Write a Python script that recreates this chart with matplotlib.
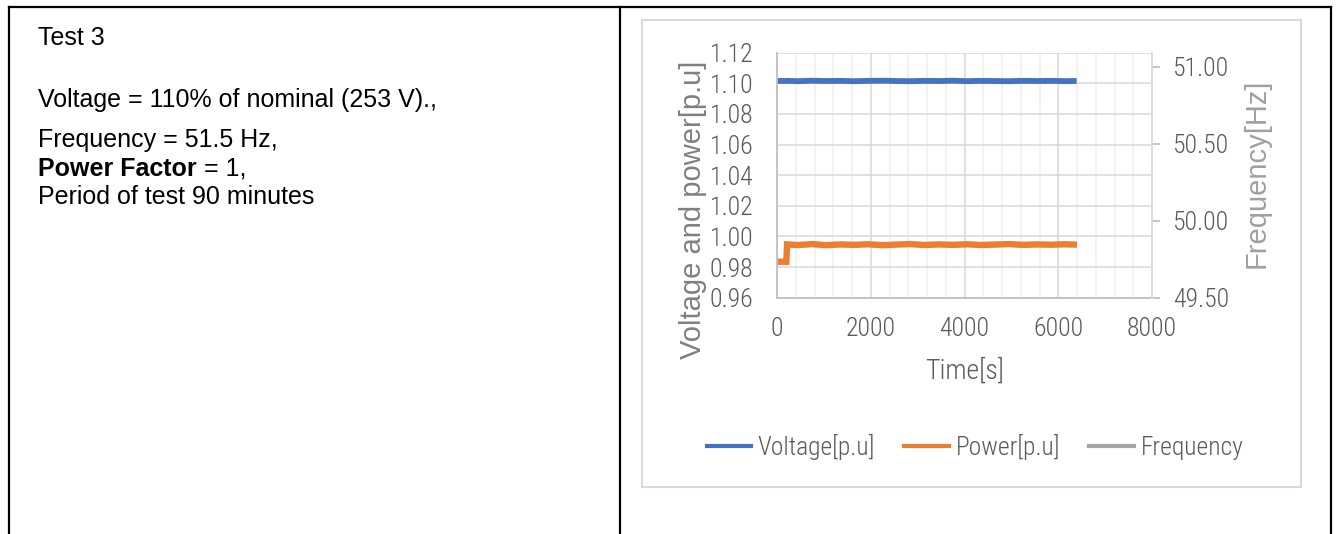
import matplotlib
matplotlib.use("Agg")
import matplotlib.pyplot as plt
from matplotlib import font_manager as fm
from matplotlib.lines import Line2D
from matplotlib.patches import Rectangle
from matplotlib.ticker import MultipleLocator, FormatStrFormatter

# --- data ---
time_s = [0, 200, 215, 450, 750, 1050, 1350, 1650, 1950, 2250, 2550, 2850,
          3150, 3450, 3750, 4050, 4350, 4650, 4950, 5250, 5550, 5850, 6150, 6330]
voltage_pu = [1.1016, 1.1015, 1.1016, 1.1014, 1.1017, 1.1015, 1.1016, 1.1014,
              1.1016, 1.1017, 1.1015, 1.1014, 1.1016, 1.1015, 1.1017, 1.1014,
              1.1016, 1.1015, 1.1014, 1.1016, 1.1015, 1.1016, 1.1014, 1.1015]
power_pu = [0.9835, 0.9835, 0.9948, 0.9944, 0.9950, 0.9943, 0.9948, 0.9945,
            0.9949, 0.9943, 0.9947, 0.9950, 0.9944, 0.9948, 0.9945, 0.9949,
            0.9944, 0.9947, 0.9950, 0.9945, 0.9948, 0.9946, 0.9949, 0.9947]
frequency_hz = [51.5, 51.5, 51.5, 51.5, 51.5, 51.5, 51.5, 51.5, 51.5, 51.5, 51.5, 51.5,
                51.5, 51.5, 51.5, 51.5, 51.5, 51.5, 51.5, 51.5, 51.5, 51.5, 51.5, 51.5]

info_title = "Test 3"
info_lines = [
    ("Voltage = 110% of nominal (253 V).,", None),
    ("Frequency = 51.5 Hz,", None),
    ("Power Factor", " = 1,"),
    ("Period of test 90 minutes", None),
]

BLUE = "#4472C4"
ORANGE = "#ED7D31"
GRAY = "#A5A5A5"
TXT = "#595959"


def pick_narrow():
    # look for any condensed / narrow sans face; Excel used Calibri Light here
    best = None
    for f in fm.fontManager.ttflist:
        fn = f.fname.lower()
        nm = f.name.lower()
        if f.style != "normal":
            continue
        cond = ("narrow" in nm or "condensed" in nm or "narrow" in fn
                or "condensed" in fn or str(f.stretch) == "condensed")
        if not cond:
            continue
        if any(k in fn for k in ("bold", "italic", "black", "medium", "thin",
                                 "extra", "ultra", "semi", "mono")):
            continue
        if "liberation" in fn:
            rank = 0
        elif "roboto" in fn:
            rank = 1 if "light" in fn else 2
        elif "noto" in fn:
            rank = 3 if "light" in fn else 4
        elif "dejavu" in fn:
            rank = 5
        else:
            rank = 6 if "light" in fn else 7
        if best is None or rank < best[0]:
            best = (rank, f.fname)
    return best[1] if best else None


NARROW_FILE = pick_narrow()


def nprop(size):
    if NARROW_FILE:
        return fm.FontProperties(fname=NARROW_FILE, size=size)
    return fm.FontProperties(family="Liberation Sans", size=size * 0.85)


W, H = 1336, 534
fig = plt.figure(figsize=(W / 100, H / 100), dpi=100)


def fx(px):
    return px / W


def fy(py):
    return 1 - py / H


# table borders
for xs, ys in [((9, 1331), (7, 7)), ((9, 9), (7, 534)),
               ((620, 620), (7, 534)), ((1331, 1331), (7, 534))]:
    fig.add_artist(Line2D([fx(x) for x in xs], [fy(y) for y in ys],
                          color="black", lw=1.6, transform=fig.transFigure))

# chart box
fig.add_artist(Rectangle((fx(642), fy(487)), fx(1301) - fx(642), fy(20) - fy(487),
                         fill=False, edgecolor="#d9d9d9", lw=1.5,
                         transform=fig.transFigure))

# left cell text
fig.text(fx(38), fy(45), info_title, fontsize=18, family="Liberation Sans",
         va="baseline", ha="left")
baselines = [107, 147, 176, 204]
for (txt, rest), yb in zip(info_lines, baselines):
    if rest is None:
        fig.text(fx(38), fy(yb), txt, fontsize=18, family="Liberation Sans",
                 va="baseline", ha="left")
    else:
        t = fig.text(fx(38), fy(yb), txt, fontsize=18, family="Liberation Sans",
                     fontweight="bold", va="baseline", ha="left")
        fig.canvas.draw()
        bb = t.get_window_extent()
        fig.text(bb.x1 / W, fy(yb), rest, fontsize=18, family="Liberation Sans",
                 va="baseline", ha="left")

# chart axes
ax = fig.add_axes([fx(777), fy(297.7), fx(1152) - fx(777), fy(52.7) - fy(297.7)])
ax.set_xlim(0, 8000)
ax.set_ylim(0.96, 1.12)
ax.xaxis.set_major_locator(MultipleLocator(2000))
ax.xaxis.set_minor_locator(MultipleLocator(400))
ax.yaxis.set_major_locator(MultipleLocator(0.02))
ax.yaxis.set_major_formatter(FormatStrFormatter("%.2f"))
ax.grid(axis="y", which="major", color="#d9d9d9", lw=1.1)
ax.grid(axis="x", which="major", color="#d9d9d9", lw=1.1)
ax.grid(axis="x", which="minor", color="#efefef", lw=1.1)
ax.set_axisbelow(True)
ax.tick_params(axis="both", which="both", length=0, labelcolor=TXT)
ax.tick_params(axis="y", pad=17)
ax.tick_params(axis="x", pad=14)
for lab in ax.get_xticklabels() + ax.get_yticklabels():
    lab.set_fontproperties(nprop(18.5))
for s in ["top", "right"]:
    ax.spines[s].set_visible(False)
for s in ["left", "bottom"]:
    ax.spines[s].set_color("#bfbfbf")
    ax.spines[s].set_linewidth(1.3)

l1, = ax.plot(time_s, voltage_pu, color=BLUE, lw=4.2, solid_joinstyle="miter",
              label="Voltage[p.u]")
l2, = ax.plot(time_s, power_pu, color=ORANGE, lw=4.6, solid_joinstyle="miter",
              label="Power[p.u]")

ax.set_ylabel("Voltage and power[p.u]", fontsize=21, color="#808080",
              family="Liberation Sans", va="center")
ax.yaxis.set_label_coords(-0.225, 0.36)
ax.set_xlabel("Time[s]", color=TXT, fontproperties=nprop(20), va="center")
ax.xaxis.set_label_coords(0.501, -0.3)

ax2 = ax.twinx()
ax2.set_ylim(49.5, 51.09)
ax2.yaxis.set_major_locator(MultipleLocator(0.5))
ax2.yaxis.set_major_formatter(FormatStrFormatter("%.2f"))
l3, = ax2.plot(time_s, frequency_hz, color=GRAY, lw=4.2, label="Frequency")
ax2.tick_params(axis="y", length=6, width=1.3, color="#bfbfbf",
                labelcolor=TXT, pad=9)
for lab in ax2.get_yticklabels():
    lab.set_fontproperties(nprop(18.5))
for s in ["top", "left", "bottom"]:
    ax2.spines[s].set_visible(False)
ax2.spines["right"].set_color("#d9d9d9")
ax2.spines["right"].set_linewidth(1.3)
ax2.set_ylabel("Frequency[Hz]", fontsize=21, color="#a0a0a0",
               family="Liberation Sans", rotation=90, va="center")
ax2.yaxis.set_label_coords(1.28, 0.51)

leg = fig.legend(handles=[l1, l2, l3], loc="center", ncol=3,
                 bbox_to_anchor=(fx(975), fy(447)), frameon=False,
                 prop=nprop(18.4),
                 handlelength=1.75, handletextpad=0.25, columnspacing=1.15)
for t in leg.get_texts():
    t.set_color(TXT)
for h in leg.get_lines():
    h.set_linewidth(3)

fig.savefig("out.png", dpi=100)
